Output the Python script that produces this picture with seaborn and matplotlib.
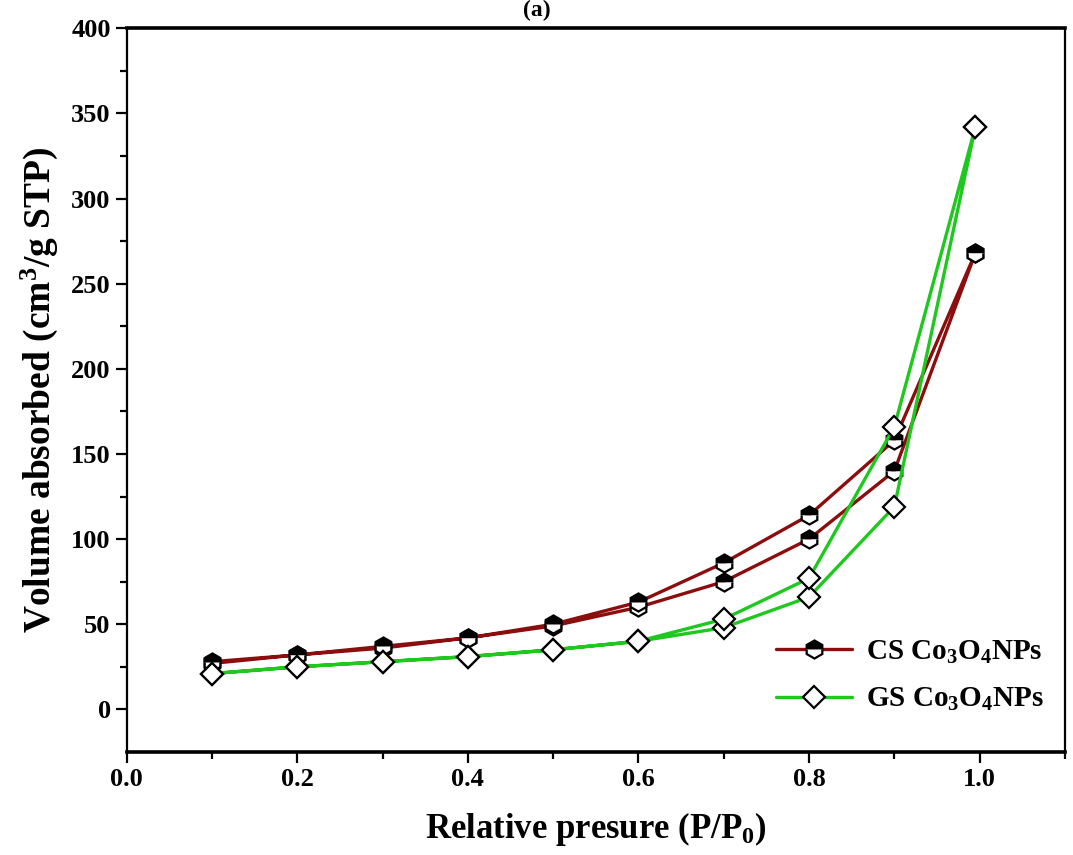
import pandas as pd
import seaborn as sns
import matplotlib.pyplot as plt

# adsorption branch goes up, desorption comes back down
p_ads = [0.1, 0.2, 0.3, 0.4, 0.5, 0.6, 0.7, 0.8, 0.9, 0.995]
p_des = [0.995, 0.9, 0.8, 0.7, 0.6, 0.5, 0.4, 0.3, 0.2, 0.1]

cs_ads = [27, 32, 36, 42, 49, 60, 75, 100, 140, 268]
cs_des = [268, 158, 114, 86, 63, 50, 42, 37, 32, 28]

gs_ads = [21, 25, 28, 31, 35, 40, 48, 66, 119, 342]
gs_des = [342, 166, 77, 53, 40, 35, 31, 28, 25, 21]


def build_df():
    rows = []
    for name, ads, des in [('CS', cs_ads, cs_des), ('GS', gs_ads, gs_des)]:
        for x, y in zip(p_ads + p_des, ads + des):
            rows.append({'sample': name, 'P': x, 'V': y})
    return pd.DataFrame(rows)


def plot(df):
    sns.set_style('ticks')
    plt.rcParams['font.family'] = ['Liberation Serif', 'DejaVu Serif']
    plt.rcParams['font.weight'] = 'bold'
    plt.rcParams['mathtext.fontset'] = 'custom'
    plt.rcParams['mathtext.rm'] = 'Liberation Serif:bold'
    plt.rcParams['mathtext.it'] = 'Liberation Serif:bold'
    plt.rcParams['mathtext.bf'] = 'Liberation Serif:bold'
    plt.rcParams['text.color'] = 'black'
    plt.rcParams['axes.labelcolor'] = 'black'

    fig = plt.figure(figsize=(10.73, 8.55), dpi=100)
    ax = fig.add_axes([0.118, 0.1205, 0.8745, 0.8465])

    cs = df[df['sample'] == 'CS']
    gs = df[df['sample'] == 'GS']

    sns.lineplot(data=cs, x='P', y='V', sort=False, estimator=None, ax=ax,
                 color='#8b0d0d', lw=2.4, marker='h', markersize=13,
                 fillstyle='top', markerfacecolor='black',
                 markerfacecoloralt='white', markeredgecolor='black',
                 markeredgewidth=1.6, label='CS Co$_3$O$_4$NPs')
    sns.lineplot(data=gs, x='P', y='V', sort=False, estimator=None, ax=ax,
                 color='#1ec81e', lw=2.4, marker='D', markersize=11,
                 markerfacecolor='white', markeredgecolor='black',
                 markeredgewidth=1.6, label='GS Co$_3$O$_4$NPs')

    ax.set_xlim(0, 1.1)
    ax.set_ylim(-25, 400)
    ax.set_xticks([0.0, 0.2, 0.4, 0.6, 0.8, 1.0])
    ax.set_xticks([0.1, 0.3, 0.5, 0.7, 0.9, 1.1], minor=True)
    ax.set_yticks(range(0, 401, 50))
    ax.set_yticks(range(25, 400, 50), minor=True)
    ax.set_xticklabels(['0.0', '0.2', '0.4', '0.6', '0.8', '1.0'])

    ax.tick_params(which='major', direction='out', length=8, width=1.6,
                   labelsize=19, colors='black')
    ax.tick_params(which='minor', direction='out', length=5, width=1.6,
                   colors='black')
    for side in ['left', 'right']:
        ax.spines[side].set_linewidth(1.6)
        ax.spines[side].set_color('black')
    for side in ['top', 'bottom']:
        ax.spines[side].set_linewidth(2.6)
        ax.spines[side].set_color('black')
    for lbl in ax.get_xticklabels() + ax.get_yticklabels():
        lbl.set_fontweight('bold')

    ax.set_xlabel('Relative presure (P/P$_0$)', fontsize=25,
                  fontweight='bold', labelpad=14)
    ax.set_ylabel('Volume absorbed (cm$^3$/g STP)', fontsize=27,
                  fontweight='bold', labelpad=8)
    fig.text(0.5, 1.0, '(a)', ha='center', va='top', fontsize=17,
             fontweight='bold')

    ax.legend(loc='lower right', bbox_to_anchor=(1.0, 0.025), frameon=False,
              fontsize=21, handlelength=2.6, labelspacing=0.7,
              handletextpad=0.5, borderaxespad=0.3)

    fig.savefig('out.png', dpi=100)


def main():
    df = build_df()
    plot(df)


if __name__ == '__main__':
    main()
